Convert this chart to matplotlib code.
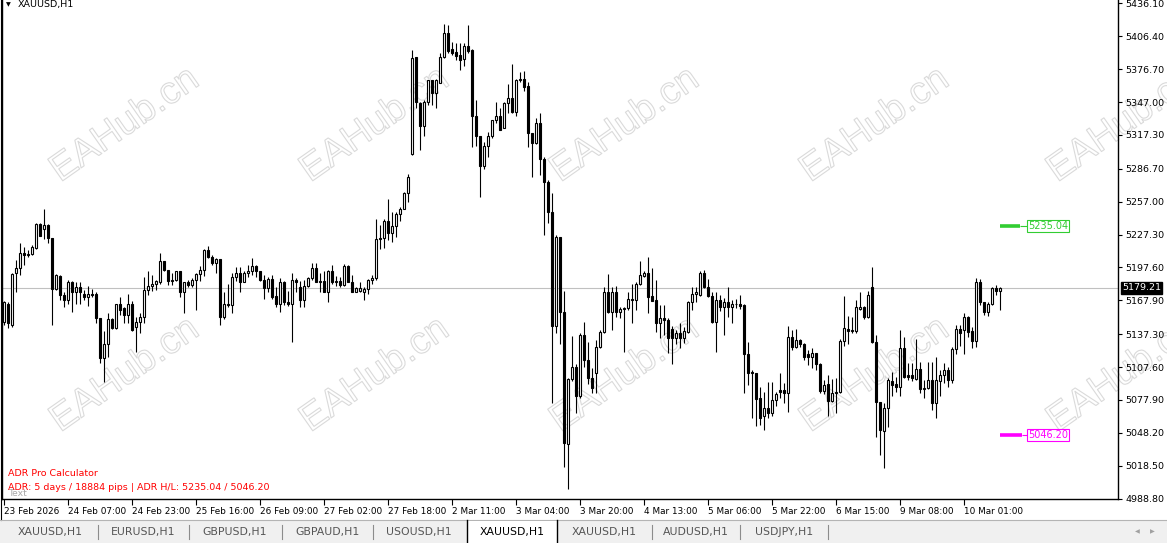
import matplotlib
matplotlib.use("Agg")
import matplotlib.pyplot as plt
import matplotlib.patheffects as pe
import matplotlib.transforms as mtransforms
from matplotlib.patches import Rectangle
from matplotlib.lines import Line2D
import numpy as np

# XAUUSD H1 candles
opens = [
    5148, 5165, 5146, 5193, 5197, 5211, 5209, 5210, 5215, 5237,
    5232, 5236, 5224, 5178, 5190, 5173, 5168, 5184, 5175, 5180,
    5174, 5171, 5174, 5174, 5152, 5116, 5128, 5151, 5143, 5165,
    5161, 5155, 5165, 5144, 5148, 5153, 5177, 5181, 5183, 5184,
    5203, 5195, 5185, 5186, 5194, 5175, 5184, 5182, 5186, 5192,
    5195, 5213, 5207, 5202, 5205, 5153, 5165, 5164, 5189, 5193,
    5184, 5193, 5194, 5199, 5194, 5186, 5179, 5187, 5172, 5165,
    5184, 5166, 5165, 5186, 5180, 5168, 5181, 5188, 5197, 5184,
    5185, 5175, 5194, 5184, 5185, 5182, 5199, 5184, 5175, 5176,
    5175, 5178, 5186, 5188, 5223, 5224, 5240, 5229, 5235, 5246,
    5250, 5265, 5300, 5388, 5346, 5325, 5347, 5367, 5355, 5364,
    5388, 5409, 5395, 5392, 5390, 5386, 5398, 5394, 5334, 5316,
    5289, 5307, 5316, 5331, 5334, 5324, 5346, 5351, 5338, 5367,
    5368, 5362, 5319, 5310, 5328, 5296, 5275, 5248, 5145, 5225,
    5157, 5038, 5097, 5108, 5081, 5137, 5114, 5098, 5102, 5126,
    5139, 5175, 5157, 5175, 5157, 5160, 5161, 5169, 5168, 5183,
    5190, 5193, 5172, 5168, 5147, 5152, 5150, 5142, 5134, 5138,
    5134, 5139, 5166, 5174, 5173, 5193, 5180, 5172, 5148, 5168,
    5162, 5166, 5162, 5165, 5165, 5164, 5119, 5103, 5102, 5080,
    5063, 5071, 5066, 5078, 5087, 5087, 5084, 5135, 5126, 5132,
    5128, 5119, 5117, 5120, 5110, 5086, 5092, 5077, 5084, 5085,
    5131, 5142, 5140, 5140, 5160, 5162, 5153, 5180, 5130, 5076,
    5050, 5071, 5095, 5092, 5090, 5125, 5100, 5100, 5097, 5106,
    5088, 5089, 5096, 5075, 5095, 5100, 5105, 5096, 5124, 5142,
    5141, 5153, 5140, 5131, 5184, 5166, 5157, 5165, 5179, 5176,
]
highs = [
    5167, 5166, 5193, 5204, 5220, 5216, 5213, 5218, 5238, 5238,
    5250, 5237, 5224, 5192, 5191, 5175, 5186, 5185, 5184, 5184,
    5177, 5181, 5178, 5175, 5152, 5140, 5156, 5152, 5165, 5171,
    5162, 5174, 5167, 5153, 5156, 5189, 5194, 5191, 5186, 5211,
    5203, 5195, 5193, 5194, 5194, 5184, 5186, 5188, 5193, 5199,
    5214, 5217, 5209, 5206, 5205, 5175, 5183, 5193, 5198, 5198,
    5194, 5200, 5206, 5200, 5194, 5191, 5189, 5191, 5180, 5188,
    5185, 5176, 5193, 5188, 5185, 5186, 5189, 5202, 5202, 5193,
    5194, 5195, 5200, 5190, 5189, 5201, 5200, 5191, 5180, 5184,
    5180, 5187, 5191, 5241, 5236, 5241, 5259, 5248, 5248, 5252,
    5266, 5282, 5394, 5388, 5347, 5349, 5367, 5367, 5368, 5391,
    5418, 5417, 5401, 5400, 5400, 5400, 5417, 5395, 5349, 5316,
    5311, 5320, 5331, 5347, 5342, 5347, 5363, 5381, 5368, 5374,
    5375, 5365, 5319, 5333, 5337, 5297, 5277, 5265, 5227, 5225,
    5176, 5098, 5136, 5110, 5138, 5148, 5130, 5107, 5132, 5141,
    5180, 5192, 5180, 5181, 5162, 5162, 5175, 5183, 5184, 5203,
    5194, 5207, 5197, 5186, 5164, 5164, 5152, 5145, 5141, 5147,
    5144, 5167, 5180, 5180, 5194, 5195, 5187, 5175, 5175, 5173,
    5170, 5180, 5168, 5169, 5173, 5165, 5130, 5105, 5102, 5090,
    5085, 5094, 5094, 5085, 5102, 5093, 5145, 5141, 5142, 5133,
    5129, 5123, 5125, 5120, 5111, 5096, 5100, 5097, 5098, 5133,
    5172, 5154, 5153, 5168, 5175, 5163, 5176, 5198, 5137, 5076,
    5075, 5098, 5103, 5099, 5141, 5135, 5111, 5111, 5133, 5112,
    5096, 5112, 5112, 5117, 5105, 5111, 5108, 5126, 5146, 5146,
    5156, 5154, 5144, 5188, 5187, 5166, 5166, 5180, 5182, 5180,
]
lows = [
    5146, 5143, 5144, 5175, 5191, 5200, 5207, 5209, 5214, 5226,
    5223, 5220, 5146, 5177, 5168, 5162, 5165, 5157, 5165, 5165,
    5168, 5163, 5171, 5147, 5111, 5094, 5117, 5142, 5142, 5155,
    5147, 5147, 5140, 5121, 5138, 5147, 5173, 5176, 5177, 5183,
    5194, 5182, 5182, 5185, 5171, 5156, 5180, 5180, 5159, 5185,
    5190, 5206, 5200, 5193, 5146, 5151, 5162, 5156, 5185, 5175,
    5184, 5189, 5191, 5189, 5185, 5169, 5175, 5169, 5162, 5157,
    5164, 5163, 5130, 5175, 5162, 5162, 5180, 5186, 5184, 5175,
    5175, 5166, 5183, 5181, 5180, 5181, 5184, 5175, 5175, 5175,
    5168, 5174, 5183, 5186, 5214, 5215, 5222, 5221, 5225, 5240,
    5250, 5257, 5299, 5342, 5304, 5316, 5344, 5344, 5342, 5364,
    5387, 5391, 5390, 5385, 5376, 5380, 5391, 5306, 5307, 5261,
    5287, 5297, 5315, 5328, 5322, 5324, 5337, 5337, 5334, 5365,
    5357, 5306, 5279, 5309, 5281, 5227, 5238, 5075, 5138, 5128,
    5017, 4997, 5095, 5066, 5080, 5108, 5092, 5084, 5084, 5125,
    5138, 5156, 5141, 5153, 5152, 5121, 5159, 5147, 5159, 5182,
    5189, 5156, 5167, 5139, 5134, 5137, 5120, 5110, 5128, 5125,
    5129, 5138, 5159, 5166, 5172, 5179, 5171, 5147, 5121, 5158,
    5137, 5153, 5147, 5161, 5160, 5084, 5091, 5062, 5054, 5055,
    5051, 5062, 5063, 5072, 5080, 5075, 5067, 5123, 5125, 5126,
    5114, 5109, 5107, 5105, 5084, 5083, 5063, 5076, 5066, 5084,
    5127, 5128, 5138, 5138, 5159, 5151, 5152, 5129, 5044, 5028,
    5016, 5053, 5081, 5085, 5081, 5098, 5096, 5095, 5096, 5084,
    5080, 5088, 5069, 5062, 5081, 5093, 5090, 5093, 5119, 5127,
    5119, 5135, 5125, 5126, 5164, 5155, 5154, 5164, 5173, 5159,
]
closes = [
    5166, 5147, 5192, 5197, 5211, 5209, 5210, 5216, 5237, 5226,
    5236, 5224, 5178, 5191, 5173, 5168, 5184, 5175, 5180, 5175,
    5171, 5174, 5173, 5152, 5116, 5128, 5151, 5143, 5165, 5159,
    5155, 5165, 5141, 5148, 5153, 5177, 5181, 5183, 5185, 5203,
    5195, 5185, 5186, 5194, 5175, 5184, 5182, 5186, 5192, 5195,
    5213, 5207, 5202, 5205, 5153, 5165, 5164, 5189, 5193, 5184,
    5193, 5194, 5199, 5194, 5186, 5179, 5187, 5171, 5165, 5184,
    5166, 5165, 5186, 5184, 5168, 5181, 5188, 5197, 5184, 5185,
    5175, 5194, 5184, 5185, 5182, 5199, 5184, 5175, 5179, 5179,
    5178, 5186, 5188, 5223, 5224, 5240, 5229, 5235, 5246, 5250,
    5265, 5279, 5387, 5347, 5325, 5347, 5367, 5355, 5367, 5388,
    5409, 5393, 5391, 5389, 5385, 5398, 5393, 5334, 5316, 5289,
    5307, 5316, 5331, 5334, 5322, 5346, 5351, 5338, 5367, 5368,
    5361, 5319, 5310, 5328, 5296, 5275, 5248, 5145, 5225, 5157,
    5039, 5097, 5108, 5081, 5137, 5114, 5098, 5089, 5126, 5139,
    5175, 5157, 5175, 5157, 5160, 5161, 5169, 5168, 5183, 5191,
    5193, 5171, 5167, 5147, 5152, 5150, 5134, 5134, 5138, 5134,
    5140, 5166, 5174, 5175, 5193, 5180, 5172, 5148, 5168, 5162,
    5166, 5162, 5165, 5165, 5163, 5119, 5102, 5102, 5079, 5062,
    5071, 5066, 5078, 5083, 5085, 5084, 5135, 5126, 5132, 5128,
    5117, 5117, 5120, 5110, 5086, 5091, 5077, 5084, 5085, 5131,
    5143, 5140, 5141, 5162, 5162, 5153, 5173, 5130, 5076, 5051,
    5071, 5096, 5091, 5090, 5125, 5099, 5099, 5098, 5106, 5088,
    5089, 5096, 5075, 5096, 5100, 5105, 5096, 5124, 5142, 5138,
    5153, 5139, 5131, 5184, 5166, 5157, 5165, 5179, 5176, 5179.21,
]

time_labels = ["23 Feb 2026", "24 Feb 07:00", "24 Feb 23:00", "25 Feb 16:00",
               "26 Feb 09:00", "27 Feb 02:00", "27 Feb 18:00", "2 Mar 11:00",
               "3 Mar 04:00", "3 Mar 20:00", "4 Mar 13:00", "5 Mar 06:00",
               "5 Mar 22:00", "6 Mar 15:00", "9 Mar 08:00", "10 Mar 01:00"]
time_bars = [0, 16, 32, 48, 64, 80, 96, 112, 128, 144, 160, 176, 192, 208, 224, 240]

price_ticks = [5436.10, 5406.40, 5376.70, 5347.00, 5317.30, 5286.70, 5257.00, 5227.30,
               5197.60, 5167.90, 5137.30, 5107.60, 5077.90, 5048.20, 5018.50, 4988.80]

adr_high = 5235.04
adr_low = 5046.20
last_price = 5179.21

tabs = ["XAUUSD,H1", "EURUSD,H1", "GBPUSD,H1", "GBPAUD,H1", "USOUSD,H1",
        "XAUUSD,H1", "XAUUSD,H1", "AUDUSD,H1", "USDJPY,H1"]
tab_centers = [50, 143, 235, 327, 419, 512, 604, 696, 784]
tab_seps = [98, 189, 282, 373, 652, 740, 828]
active_tab = 5

W, H = 1167, 543
fig = plt.figure(figsize=(W / 100, H / 100), dpi=100)
fig.patch.set_facecolor("white")


def box(x0, y0, x1, y1):
    # pixel box (top-left origin) -> figure rect
    return [x0 / W, 1 - y1 / H, (x1 - x0) / W, (y1 - y0) / H]


def fx(x):
    return x / W


def fy(y):
    return 1 - y / H


ax = fig.add_axes(box(2, 0, 1118, 499))
ax.patch.set_visible(False)

# watermark behind everything
for cy in [125, 375]:
    for cx in [125, 375, 625, 875, 1122]:
        fig.text(fx(cx), fy(cy), "EAHub.cn", rotation=35, ha="center", va="center",
                 fontsize=27.5, family="Liberation Sans", color=(1, 1, 1, 0),
                 path_effects=[pe.Stroke(linewidth=0.8, foreground="#dadada")], zorder=-5)

o = np.array(opens, dtype=float)
h = np.array(highs, dtype=float)
l = np.array(lows, dtype=float)
c = np.array(closes, dtype=float)
x = np.arange(len(c))
up = c >= o

ax.vlines(x, l, h, color="black", lw=0.8, zorder=2)
lo = np.minimum(o, c)
ht = np.abs(c - o)
ax.bar(x[up], ht[up], bottom=lo[up], width=0.5, facecolor="white",
       edgecolor="black", linewidth=0.8, zorder=3)
ax.bar(x[~up], ht[~up], bottom=lo[~up], width=0.5, facecolor="black",
       edgecolor="black", linewidth=0.8, zorder=3)

ax.axhline(last_price, color="#c0c0c0", lw=0.8, zorder=1)

green = "#32cd32"
magenta = "#ff00ff"
ax.hlines(adr_high, 249, 254, color=green, lw=2.6, zorder=4)
ax.hlines(adr_high, 254, 255.8, color=green, lw=0.8, zorder=4)
ax.text(256.0, adr_high, "5235.04", color=green, fontsize=7, va="center", ha="left",
        bbox=dict(boxstyle="square,pad=0.12", fc="white", ec=green, lw=0.8), zorder=5)
ax.hlines(adr_low, 249, 254.5, color=magenta, lw=2.6, zorder=4)
ax.hlines(adr_low, 254.5, 255.8, color=magenta, lw=0.8, zorder=4)
ax.text(256.0, adr_low, "5046.20", color=magenta, fontsize=7, va="center", ha="left",
        bbox=dict(boxstyle="square,pad=0.12", fc="white", ec=magenta, lw=0.8), zorder=5)

ax.set_xlim(-0.5, 278.5)
ax.set_ylim(4988.37, 5439.26)

ax.yaxis.tick_right()
ax.set_yticks(price_ticks)
ax.set_yticklabels([f"{v:.2f}" for v in price_ticks])
ax.tick_params(axis="y", length=3, width=0.8, pad=2.5, labelsize=6.8, colors="black")

ax.set_xticks(time_bars)
ax.set_xticklabels(time_labels)
ax.tick_params(axis="x", length=4, width=0.8, pad=1.5, labelsize=6.4, colors="black")
for lab in ax.get_xticklabels():
    lab.set_horizontalalignment("left")

ax.spines["top"].set_visible(False)
for s in ["left", "right", "bottom"]:
    ax.spines[s].set_linewidth(1.0)
    ax.spines[s].set_color("black")

# current price box on the price scale
trans = mtransforms.blended_transform_factory(ax.transAxes, ax.transData)
ax.text(1 + 4 / 1116, last_price, f"{last_price:.2f}", transform=trans, color="white",
        fontsize=6.8, va="center", ha="left", clip_on=False, zorder=10,
        bbox=dict(boxstyle="square,pad=0.15", fc="black", ec="black"))

# header and indicator text
fig.text(fx(6), fy(5), "\u25bc", fontsize=4.5, va="center", ha="left")
fig.text(fx(18), fy(5), "XAUUSD,H1", fontsize=6.8, va="center", ha="left")
fig.text(fx(8), fy(493), "Text", fontsize=6.7, color="#a8a8a8", va="center", ha="left")
fig.text(fx(8), fy(473), "ADR Pro Calculator", fontsize=6.8, color="red", va="center", ha="left")
fig.text(fx(8), fy(487), "ADR: 5 days / 18884 pips | ADR H/L: 5235.04 / 5046.20",
         fontsize=6.8, color="red", va="center", ha="left")

# window left border
fig.add_artist(Line2D([fx(0.5), fx(0.5)], [fy(0), fy(520)], color="black", lw=0.8))

# tab strip
fig.add_artist(Rectangle((0, 0), 1, fy(520), transform=fig.transFigure,
                         fc="#f0f0f0", ec="none", zorder=1))
fig.add_artist(Line2D([0, 1], [fy(520), fy(520)], color="#b4b4b4", lw=0.8, zorder=2))
fig.add_artist(Rectangle((fx(467), 0), fx(557) - fx(467), fy(520.5), transform=fig.transFigure,
                         fc="white", ec="none", zorder=3))
for xx in [467, 557]:
    fig.add_artist(Line2D([fx(xx), fx(xx)], [0, fy(520)], color="black", lw=1.0, zorder=4))
for xx in tab_seps:
    fig.add_artist(Line2D([fx(xx), fx(xx)], [fy(525), fy(539)], color="#8c8c8c", lw=0.8, zorder=4))
for i, (name, cx) in enumerate(zip(tabs, tab_centers)):
    fig.text(fx(cx), fy(532), name, fontsize=7.8, ha="center", va="center",
             color="black" if i == active_tab else "#555555", zorder=5)
fig.text(fx(1137), fy(532), "\u25c0", fontsize=4.5, ha="center", va="center", color="#a0a0a0", zorder=5)
fig.text(fx(1152), fy(532), "\u25b6", fontsize=4.5, ha="center", va="center", color="#a0a0a0", zorder=5)

fig.savefig("out.png", dpi=100, facecolor="white")
